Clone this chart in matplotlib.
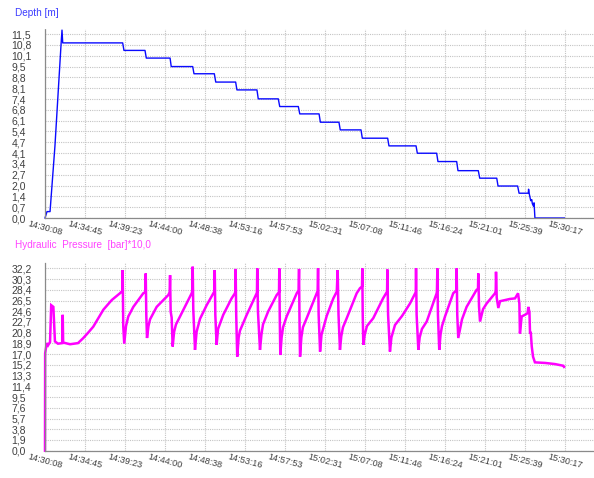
"""
Recreate a two panel logger plot: depth and hydraulic pressure vs time.
"""

import numpy as np
import matplotlib
matplotlib.use('Agg')
import matplotlib.pyplot as plt


# Time axis (seconds since 14:30:08)

time_labels = ['14:30:08', '14:34:45', '14:39:23', '14:44:00', '14:48:38',
               '14:53:16', '14:57:53', '15:02:31', '15:07:08', '15:11:46',
               '15:16:24', '15:21:01', '15:25:39', '15:30:17']
tick_step = 277.6
x_max = 3810

# Depth [m]

depth_time = [0, 14, 35, 69, 111, 118, 123, 539, 548, 694, 703, 868, 876,
              1025, 1034, 1175, 1185, 1323, 1332, 1471, 1480, 1619, 1629,
              1758, 1768, 1902, 1911, 2040, 2049, 2193, 2202, 2378, 2387,
              2575, 2584, 2718, 2727, 2857, 2866, 3007, 3017, 3135, 3144,
              3280, 3290, 3354, 3356, 3361, 3371, 3378, 3382, 3389, 3394,
              3400, 3604]
depth_vals = [0.0, 0.4, 0.4, 4.5, 10.8, 11.75, 10.95, 10.95, 10.48, 10.48, 10.0,
              10.0, 9.47, 9.47, 9.02, 9.02, 8.50, 8.50, 8.01, 8.01, 7.45,
              7.45, 6.97, 6.97, 6.51, 6.51, 5.99, 5.99, 5.51, 5.51, 4.99,
              4.99, 4.51, 4.51, 4.05, 4.05, 3.53, 3.53, 2.96, 2.96, 2.49,
              2.49, 2.00, 2.00, 1.55, 1.55, 1.80, 1.50, 1.08, 1.15, 0.90,
              0.75, 0.95, 0.0, 0.0]
depth_ticks = ['0,0', '0,7', '1,4', '2,0', '2,7', '3,4', '4,1', '4,7', '5,4',
               '6,1', '6,8', '7,4', '8,1', '8,8', '9,5', '10,1', '10,8', '11,5']
depth_top = 11.5

# Hydraulic pressure [bar]*10

press_time = [0, 1, 12, 21, 35, 43, 58, 69, 90, 120, 123, 126, 174, 229, 266,
              298, 335, 368, 405, 463, 520, 536, 539, 543, 550, 562, 578, 613,
              682, 696, 699, 703, 708, 718, 729, 775, 856, 865, 868, 872, 879,
              886, 896, 909, 937, 1018, 1022, 1025, 1029, 1041, 1052, 1076,
              1122, 1168, 1175, 1178, 1182, 1191, 1201, 1237, 1295, 1318, 1321,
              1323, 1327, 1334, 1344, 1353, 1400, 1469, 1471, 1473, 1478, 1492,
              1502, 1513, 1549, 1608, 1624, 1626, 1629, 1633, 1642, 1652, 1677,
              1747, 1760, 1763, 1766, 1770, 1779, 1790, 1816, 1885, 1892, 1895,
              1899, 1909, 1919, 1955, 2001, 2025, 2031, 2037, 2047, 2056, 2068,
              2094, 2163, 2186, 2200, 2202, 2205, 2209, 2219, 2234, 2278, 2346,
              2374, 2376, 2381, 2394, 2404, 2429, 2478, 2533, 2573, 2575, 2579,
              2591, 2600, 2616, 2649, 2718, 2720, 2723, 2727, 2736, 2745, 2755,
              2776, 2833, 2854, 2857, 2861, 2868, 2894, 2926, 2995, 3005, 3007,
              3012, 3019, 3040, 3065, 3123, 3128, 3130, 3135, 3146, 3158, 3192,
              3227, 3262, 3283, 3292, 3296, 3308, 3331, 3350, 3354, 3362, 3366,
              3371, 3378, 3387, 3400, 3470, 3539, 3597, 3602]
press_vals = [0.0, 17.2, 19.0, 18.6, 19.2, 25.7, 25.4, 19.3, 18.9, 19.0, 24.0,
              19.1, 18.8, 19.0, 19.9, 20.8, 21.9, 23.3, 24.9, 26.6, 27.8, 28.2,
              31.9, 22.0, 18.9, 22.0, 23.7, 25.4, 27.8, 28.0, 31.3, 24.0, 19.9,
              22.0, 23.2, 25.4, 27.5, 28.0, 31.0, 24.6, 23.5, 18.4, 21.0, 22.3,
              23.7, 27.8, 28.2, 32.5, 25.0, 17.8, 21.0, 23.3, 25.7, 27.8, 28.1,
              31.9, 24.0, 18.7, 21.5, 24.0, 26.9, 27.8, 28.2, 32.1, 24.0, 16.6,
              20.0, 21.2, 24.0, 27.8, 28.0, 32.2, 24.5, 17.8, 20.5, 22.3, 24.6,
              27.5, 28.0, 32.2, 24.0, 16.9, 20.0, 21.8, 23.7, 27.8, 28.3, 32.1,
              23.5, 16.6, 20.0, 21.8, 23.4, 27.8, 28.2, 32.2, 24.0, 17.5, 20.5,
              23.8, 26.9, 28.1, 31.9, 24.0, 17.8, 20.2, 21.8, 23.4, 27.8, 28.7,
              29.0, 32.2, 24.0, 18.7, 20.5, 22.0, 23.4, 26.9, 28.1, 32.0, 24.0,
              17.5, 20.0, 22.2, 23.8, 26.0, 28.0, 32.2, 24.0, 17.8, 20.0, 21.5,
              22.8, 27.8, 28.2, 32.2, 24.0, 17.8, 20.5, 22.0, 23.7, 27.8, 28.3,
              32.2, 24.0, 19.9, 23.2, 25.4, 28.4, 28.6, 31.3, 25.5, 22.8, 25.0,
              26.0, 27.8, 28.2, 31.6, 27.0, 25.2, 26.4, 26.6, 26.8, 26.9, 27.8,
              26.0, 20.7, 23.7, 24.0, 24.3, 25.4, 24.5, 20.7, 21.0, 18.4, 16.6,
              15.6, 15.5, 15.3, 15.0, 14.8]
press_ticks = ['0,0', '1,9', '3,8', '5,7', '7,6', '9,5', '11,4', '13,3', '15,2',
               '17,0', '18,9', '20,8', '22,7', '24,6', '26,5', '28,4', '30,3',
               '32,2']
press_top = 32.2

label_color = '#404040'
grid_color = '#c4c4c4'


def style_axis(ax, ytick_labels, ytop, ymax):
    """Grid, spines and tick labels in the logger style"""

    nticks = len(ytick_labels)
    ax.set_yticks([ytop * i / (nticks - 1) for i in range(nticks)])
    ax.set_yticklabels(ytick_labels)
    ax.set_ylim(0, ymax)

    ax.set_xticks([tick_step * i for i in range(len(time_labels))])
    ax.set_xticklabels(time_labels, rotation=-15, ha='center', va='top')
    ax.set_xlim(0, x_max)

    ax.tick_params(axis='y', length=0, pad=24, labelsize=7.5, labelcolor=label_color)
    ax.tick_params(axis='x', length=0, pad=1, labelsize=6.6, labelcolor=label_color)
    for lab in ax.get_yticklabels():
        lab.set_horizontalalignment('left')

    ax.grid(True, color=grid_color, linestyle=(0, (1, 1)), linewidth=0.8)
    ax.set_axisbelow(True)
    for side in ['top', 'right']:
        ax.spines[side].set_visible(False)
    for side in ['left', 'bottom']:
        ax.spines[side].set_color('#8a8a8a')
        ax.spines[side].set_linestyle((0, (1, 1)))
        ax.spines[side].set_linewidth(0.9)


def main():
    """Run the program."""

    plt.rcParams['font.family'] = ['Liberation Sans', 'DejaVu Sans']
    fig = plt.figure(figsize=(5.94, 4.78), dpi=100)

    ax1 = fig.add_axes([45 / 594, 260 / 478, 549 / 594, 188.7 / 478])
    ax1.plot(depth_time, depth_vals, color='#0a0aff', linewidth=1.0, clip_on=False)
    style_axis(ax1, depth_ticks, depth_top, 11.8)
    fig.text(15 / 594, 1 - 12.5 / 478, 'Depth [m]', color='#3c3cff',
             fontsize=7.2, ha='left', va='center')

    ax2 = fig.add_axes([45 / 594, 27.3 / 478, 549 / 594, 188 / 478])
    ax2.plot(press_time, press_vals, color='#ff00ff', linewidth=1.8,
             solid_joinstyle='miter', clip_on=False)
    style_axis(ax2, press_ticks, press_top, 33.2)
    fig.text(15 / 594, 1 - 245.5 / 478, 'Hydraulic  Pressure  [bar]*10,0',
             color='#ff44ff', fontsize=7.2, ha='left', va='center')

    fig.savefig('out.png', dpi=100)


if __name__ == '__main__':
    main()
